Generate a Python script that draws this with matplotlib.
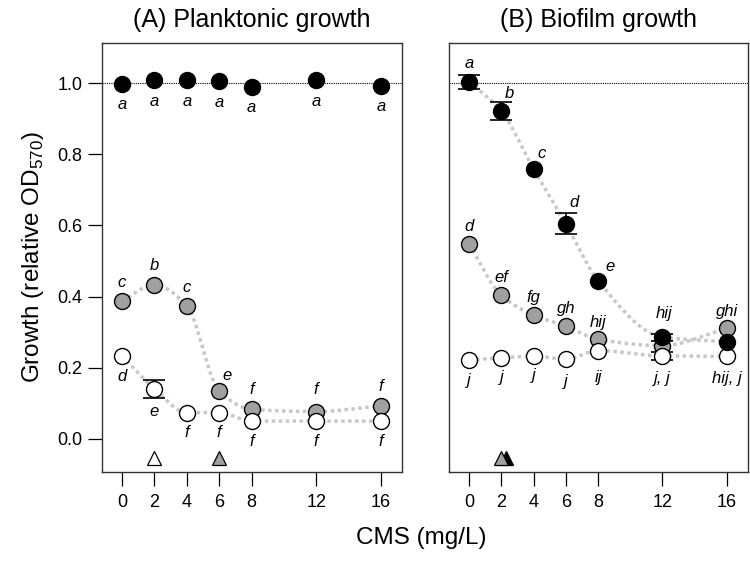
import numpy as np
import matplotlib
matplotlib.use("Agg")
import matplotlib.pyplot as plt
from matplotlib import font_manager

# ---------------- data ----------------
cms = [0, 2, 4, 6, 8, 12, 16]
xticks = [0, 2, 4, 6, 8, 12, 16]
yticks = [0.0, 0.2, 0.4, 0.6, 0.8, 1.0]
ytick_labels = ["0.0", "0.2", "0.4", "0.6", "0.8", "1.0"]

# (A) planktonic
plank_black = [0.997, 1.008, 1.008, 1.005, 0.990, 1.008, 0.992]
plank_gray = [0.388, 0.433, 0.374, 0.135, 0.083, 0.077, 0.093]
plank_white = [0.234, 0.140, 0.074, 0.074, 0.050, 0.050, 0.050]
plank_white_err = [0, 0.025, 0, 0, 0, 0, 0]
plank_black_lbl = ["a", "a", "a", "a", "a", "a", "a"]
plank_gray_lbl = ["c", "b", "c", "e", "f", "f", "f"]
plank_white_lbl = ["d", "e", "f", "f", "f", "f", "f"]
plank_tri_x = [2, 6]
plank_tri_col = ["white", "#a0a0a0"]

# (B) biofilm
bio_black = [1.003, 0.921, 0.758, 0.605, 0.445, 0.286, 0.273]
bio_black_err = [0.020, 0.025, 0, 0.030, 0, 0.010, 0]
bio_gray = [0.547, 0.403, 0.348, 0.317, 0.280, 0.262, 0.311]
bio_white = [0.222, 0.228, 0.233, 0.224, 0.248, 0.233, 0.232]
bio_white_err = [0, 0, 0, 0, 0, 0.010, 0]
bio_black_lbl = ["a", "b", "c", "d", "e", "hij", ""]
bio_gray_lbl = ["d", "ef", "fg", "gh", "hij", "", "ghi"]
bio_white_lbl = ["j", "j", "j", "j", "ij", "j, j", "hij, j"]
bio_tri_x = [2.3, 2]
bio_tri_col = ["black", "#a0a0a0"]

# ---------------- styling ----------------
avail = {f.name for f in font_manager.fontManager.ttflist}
fam = [f for f in ["Liberation Sans Narrow", "Liberation Sans", "DejaVu Sans"] if f in avail]
plt.rcParams["font.family"] = fam
plt.rcParams["mathtext.fontset"] = "custom"
plt.rcParams["mathtext.rm"] = fam[0]

GRAY = "#a0a0a0"
CURVE = "#c8c8c8"
MS = 11.5


def pchip(x, y, xn):
    x = np.asarray(x, float)
    y = np.asarray(y, float)
    h = np.diff(x)
    d = np.diff(y) / h
    n = len(x)
    m = np.zeros(n)
    for k in range(1, n - 1):
        if d[k - 1] * d[k] > 0:
            w1 = 2 * h[k] + h[k - 1]
            w2 = h[k] + 2 * h[k - 1]
            m[k] = (w1 + w2) / (w1 / d[k - 1] + w2 / d[k])
    m[0] = d[0]
    m[-1] = d[-1]
    out = np.empty_like(xn)
    for i, xv in enumerate(xn):
        k = min(np.searchsorted(x, xv, side="right") - 1, n - 2)
        k = max(k, 0)
        t = (xv - x[k]) / h[k]
        h00 = 2 * t**3 - 3 * t**2 + 1
        h10 = t**3 - 2 * t**2 + t
        h01 = -2 * t**3 + 3 * t**2
        h11 = t**3 - t**2
        out[i] = h00 * y[k] + h10 * h[k] * m[k] + h01 * y[k + 1] + h11 * h[k] * m[k + 1]
    return out


fig = plt.figure(figsize=(7.5, 5.68), dpi=100)
axA = fig.add_axes([0.136, 0.169, 0.400, 0.755])
axB = fig.add_axes([0.599, 0.169, 0.398, 0.755])

xs = np.linspace(0, 16, 300)


def panel(ax, series, labels, tris, tricols, curves):
    ax.axhline(1.0, color="black", lw=0.8, ls=(0, (1, 1)), zorder=1)
    for y, on in zip([s[0] for s in series], curves):
        if on:
            ax.plot(xs, pchip(cms, y, xs), color=CURVE, lw=2.5, ls=(0, (1, 1)), zorder=2)
    for (y, err, fc) in series:
        if any(e > 0 for e in err):
            ax.errorbar(cms, y, yerr=[e if e > 0 else np.nan for e in err], fmt="none",
                        ecolor="black", elinewidth=1.2, capsize=8, capthick=1.2, zorder=3)
    for (y, err, fc) in series:
        ax.plot(cms, y, "o", ms=MS, mfc=fc, mec="black", mew=1.0, ls="none", zorder=4)
    for (lbls, y, dx, dy) in labels:
        for xi, yi, t, ddx, ddy in zip(cms, y, lbls, dx, dy):
            if t:
                ax.annotate(t, (xi, yi), xytext=(ddx, ddy), textcoords="offset points",
                            ha="center", va="center", fontsize=12, style="italic", zorder=5)
    for tx, tc in zip(tris, tricols):
        ax.plot([tx], [-0.053], "^", ms=10, mfc=tc, mec="black", mew=0.9, zorder=4)
    ax.set_xlim(-1.24, 17.3)
    ax.set_ylim(-0.093, 1.112)
    ax.set_xticks(xticks)
    ax.set_xticklabels([str(v) for v in xticks])
    ax.tick_params(axis="x", length=10, width=0.9, labelsize=13, pad=6)
    for s in ax.spines.values():
        s.set_linewidth(1.0)
        s.set_color("#333333")


panel(axA,
      [(plank_gray, [0] * 7, GRAY), (plank_white, plank_white_err, "white"), (plank_black, [0] * 7, "black")],
      [(plank_black_lbl, plank_black, [0] * 7, [-15, -15, -15, -15, -15, -15, -15]),
       (plank_gray_lbl, plank_gray, [0, 0, 0, 6, 0, 0, 0], [13, 14, 13, 11, 14, 16, 14]),
       (plank_white_lbl, plank_white, [0] * 7, [-15, -16, -14, -14, -15, -15, -15])],
      plank_tri_x, plank_tri_col, [True, True, False])
axA.set_yticks(yticks)
axA.set_yticklabels(ytick_labels)
axA.tick_params(axis="y", length=10, width=0.9, labelsize=13, pad=4)
axA.set_ylabel("Growth (relative OD$_{570}$)", fontsize=17.5, labelpad=8)
axA.set_title("(A) Planktonic growth", fontsize=18, pad=12)

panel(axB,
      [(bio_gray, [0] * 7, GRAY), (bio_white, bio_white_err, "white"), (bio_black, bio_black_err, "black")],
      [(bio_black_lbl, bio_black, [0, 6, 6, 6, 9, 1, 0], [13, 13, 11, 15, 10, 17, 0]),
       (bio_gray_lbl, bio_gray, [0, 0, 0, 0, 0, 0, 0], [13, 13, 13, 13, 12, 0, 12]),
       (bio_white_lbl, bio_white, [0] * 7, [-15, -14, -14, -16, -19, -16, -16])],
      bio_tri_x, bio_tri_col, [True, True, True])
axB.set_yticks([])
axB.set_title("(B) Biofilm growth", fontsize=18, pad=12)

fig.text(0.562, 0.053, "CMS (mg/L)", ha="center", va="center", fontsize=17.5)

fig.savefig("out.png", dpi=100)
